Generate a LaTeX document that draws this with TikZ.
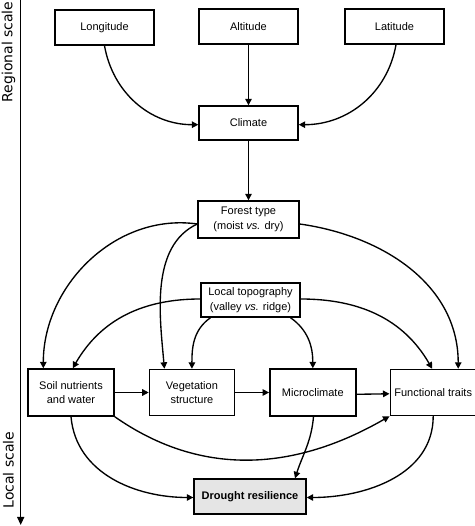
\documentclass[tikz,border=0pt]{standalone}
\usepackage{fontspec}
\setmainfont{Liberation Sans}
\newfontfamily\scalefont{DejaVu Sans}
\usetikzlibrary{positioning,arrows.meta}

\begin{document}
\begin{tikzpicture}[
  x=1pt, y=1pt,
  node distance=34pt,
  factor/.style={rectangle, draw=black, line width=1.4pt, minimum width=99pt,
    minimum height=35pt, inner sep=2pt, align=center,
    font=\fontsize{11}{14.5}\selectfont},
  local/.style={factor, minimum width=86pt, minimum height=47pt},
  link/.style={line width=1.35pt, -{Triangle[length=6.5pt,width=6.5pt]}}
]
  \useasboundingbox (0,0) rectangle (474,526);

  % scale axis
  \coordinate (axtop) at (20.7,526);
  \coordinate (axend) at (20.7,1);
  \draw[link, -{Triangle[length=8pt,width=7pt]}] (axtop) -- (axend);
  \node (regional) [rotate=90, anchor=west, font=\scalefont\fontsize{14}{16}\selectfont]
    at (8.5,420) {Regional scale};
  \node (localsc) [rotate=90, anchor=west, font=\scalefont\fontsize{14}{16}\selectfont]
    at (8.5,14) {Local scale};

  % regional drivers
  \node (alt) [factor] at (248.5,499.5) {Altitude};
  \node (long) [factor] at (104.5,498.5) {Longitude};
  \node (lat) [factor] at (394.5,499.5) {Latitude};
  \node (clim) [factor, minimum height=34pt] at (248.5,403) {Climate};
  \node (forest) [factor, minimum width=101pt, minimum height=37pt] at (248.5,306.5)
    {Forest type\\(moist \textit{vs.} dry)};
  \node (topo) [factor, minimum height=34pt] at (250.5,226)
    {Local topography\\(valley \textit{vs.} ridge)};

  % local factors
  \node (soil) [local] at (71,133.5) {Soil nutrients\\and water};
  \node (veg) [local, minimum width=85pt, minimum height=46pt, right=of soil] {Vegetation\\structure};
  \node (micro) [local, right=of veg] {Microclimate};
  \node (func) [local, minimum height=46pt, right=33pt of micro] {Functional traits};
  \node (drought) [factor, fill=black!10, minimum width=112pt, font=\fontsize{11}{14.5}\selectfont\bfseries]
    at (250,29.5) {Drought resilience};

  \draw[link] (long.south) to[out=-80, in=180] ([yshift=-1.7pt]clim.west);
  \draw[link] (alt) -- (clim);
  \draw[link] ([xshift=1.5pt]lat.south) to[out=-100, in=0] ([yshift=-1.7pt]clim.east);
  \draw[link] (clim) -- (forest);

  \draw[link] ([yshift=-4.5pt]forest.west) to[out=172, in=90] ([xshift=-27.7pt]soil.north);
  \draw[link] ([yshift=-4.5pt]forest.west) to[out=205, in=95, looseness=0.9] ([xshift=-27.5pt]veg.north);
  \draw[link] ([yshift=-4.5pt]forest.east) to[out=-8, in=90] ([xshift=25pt]func.north);

  \draw[link] ([yshift=1pt]topo.west) to[out=180, in=60] ([xshift=1.7pt]soil.north);
  \draw[link] ([yshift=1pt]topo.east) to[out=0, in=120] ([xshift=-1pt]func.north);
  \draw[link] ([xshift=-40pt]topo.south) to[out=215, in=90] (veg.north);
  \draw[link] ([xshift=40pt]topo.south) to[out=-35, in=90] (micro.north);

  \draw[link] (soil) -- (veg);
  \draw[link] (veg) -- (micro);
  \draw[link] ([yshift=-1.8pt]micro.east) -- ([yshift=-1.3pt]func.west);
  \draw[link] (soil.south east) to[out=-35, in=210] (func.south west);

  \draw[link] (soil.south) to[out=-85, in=180] ([yshift=-1pt]drought.west);
  \draw[link] ([xshift=0.7pt]micro.south) to[out=-95, in=72] ([xshift=45pt]drought.north);
  \draw[link] (func.south) to[out=-90, in=0] ([yshift=-1pt]drought.east);
\end{tikzpicture}
\end{document}
